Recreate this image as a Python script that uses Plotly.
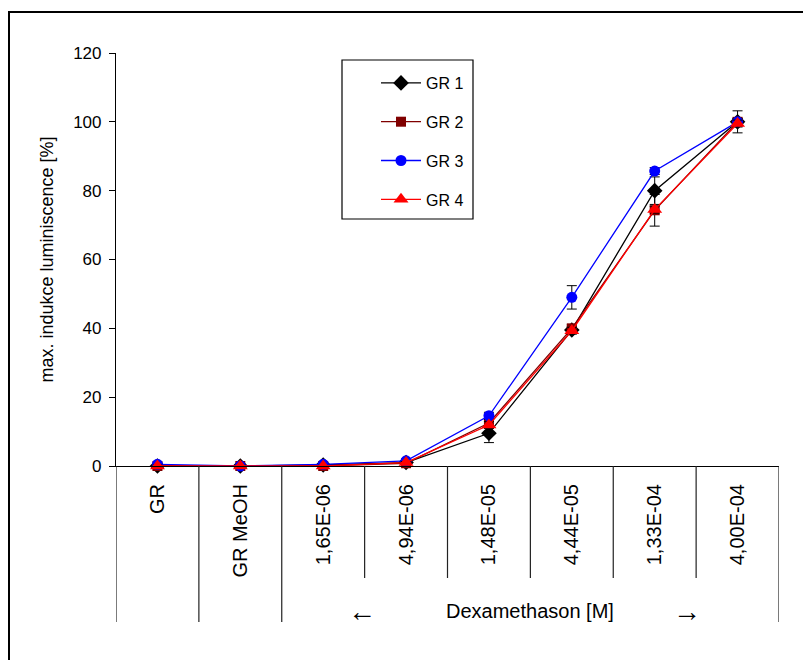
import plotly.graph_objects as go

categories = ["GR", "GR MeOH", "1,65E-06", "4,94E-06", "1,48E-05", "4,44E-05", "1,33E-04", "4,00E-04"]
gr1 = [0.0, 0.0, 0.3, 1.0, 9.5, 39.5, 80.0, 100.0]
gr1_err = [0.5, 0.3, 0.3, 0.5, 2.7, 1.0, 4.0, 1.0]
gr2 = [0.0, 0.0, 0.0, 0.8, 12.5, 40.0, 74.3, 100.0]
gr2_err = [0.3, 0.2, 0.2, 0.4, 1.0, 1.0, 4.6, 3.2]
gr3 = [0.5, 0.0, 0.5, 1.5, 14.6, 49.0, 85.7, 100.0]
gr3_err = [0.3, 0.2, 0.3, 0.4, 1.0, 3.4, 1.0, 1.0]
gr4 = [0.0, 0.0, 0.0, 1.0, 11.9, 39.3, 74.5, 99.5]
gr4_err = [0.3, 0.2, 0.2, 0.3, 1.0, 1.0, 1.0, 1.0]
series_names = ["GR 1", "GR 2", "GR 3", "GR 4"]
group_label = "Dexamethason [M]"

FONT = "Liberation Sans, Arial, sans-serif"

styles = [
    dict(color="#000000", symbol="diamond", size=12),
    dict(color="#800000", symbol="square", size=10),
    dict(color="#0000FF", symbol="circle", size=11),
    dict(color="#FF0000", symbol="triangle-up", size=13),
]
data = [(gr1, gr1_err), (gr2, gr2_err), (gr3, gr3_err), (gr4, gr4_err)]

fig = go.Figure()
for i, ((vals, errs), name, st) in enumerate(zip(data, series_names, styles)):
    fig.add_trace(go.Scatter(
        x=categories, y=vals, name=name, mode="lines+markers",
        line=dict(color=st["color"], width=1.3),
        marker=dict(color=st["color"], symbol=st["symbol"], size=st["size"], line=dict(width=0)),
        error_y=dict(type="data", array=errs, visible=True, color="#000000", thickness=1, width=5),
        cliponaxis=False, legendgroup=f"g{i}",
    ))

# page-pixel geometry of the plot area (page has 8px body offset)
OFF = 8
L, R, T, B = 116, 779, 53, 466
W, H = 803, 652
pw, ph = R - L, B - T

def py(p):
    return (B - p) / ph

def px(p):
    return (p - L) / pw

shapes = []
n = len(categories)
for k in range(n + 1):
    long_ = k in (0, 1, 2, n)
    shapes.append(dict(type="line", xref="x", yref="paper", x0=k - 0.5, x1=k - 0.5,
                       y0=0, y1=py(622 if long_ else 578), line=dict(color="#222222", width=1.2)))
# outer border (extends beyond image on right/bottom)
shapes.append(dict(type="rect", xref="paper", yref="paper", x0=px(9), x1=px(840), y0=py(700), y1=py(12),
                   line=dict(color="black", width=2), fillcolor="rgba(0,0,0,0)", layer="below"))
# legend frame
shapes.append(dict(type="rect", xref="paper", yref="paper", x0=px(342), x1=px(473), y0=py(219), y1=py(60),
                   line=dict(color="black", width=1.2), fillcolor="white", layer="below"))

annotations = [
    dict(text="←", xref="paper", yref="paper", x=px(362), y=py(611), showarrow=False,
         font=dict(family=FONT, size=28, color="black"), xanchor="center", yanchor="middle"),
    dict(text=group_label, xref="paper", yref="paper", x=px(530), y=py(611), showarrow=False,
         font=dict(family=FONT, size=20, color="black"), xanchor="center", yanchor="middle"),
    dict(text="→", xref="paper", yref="paper", x=px(687), y=py(611), showarrow=False,
         font=dict(family=FONT, size=28, color="black"), xanchor="center", yanchor="middle"),
]

fig.update_layout(
    width=W, height=H,
    margin=dict(l=L - OFF, r=W - (R - OFF), t=T - OFF, b=H - (B - OFF), pad=0),
    paper_bgcolor="white", plot_bgcolor="white",
    font=dict(family=FONT, size=16, color="black"),
    showlegend=True,
    legend=dict(x=px(376), y=py(66), xanchor="left", yanchor="top",
                borderwidth=0, bgcolor="rgba(0,0,0,0)",
                font=dict(family=FONT, size=16, color="black"),
                tracegroupgap=15, traceorder="grouped",
                itemwidth=40),
    xaxis=dict(type="category", categoryorder="array", categoryarray=categories,
               range=[-0.5, n - 0.5], showline=True, linecolor="black", linewidth=1.2,
               ticks="outside", ticklen=9, tickcolor="rgba(0,0,0,0)",
               tickangle=-90, showgrid=False, zeroline=False,
               tickfont=dict(family=FONT, size=20, color="black")),
    yaxis=dict(range=[0, 120], dtick=20, showline=True, linecolor="black", linewidth=1.2,
               ticks="outside", ticklen=6, tickcolor="black", showgrid=False, zeroline=False,
               ticklabelstandoff=4,
               title=dict(text="max. indukce luminiscence [%]", standoff=14,
                          font=dict(family=FONT, size=18, color="black")),
               tickfont=dict(family=FONT, size=17, color="black")),
    shapes=shapes, annotations=annotations,
)

fig.write_html("out.html")
